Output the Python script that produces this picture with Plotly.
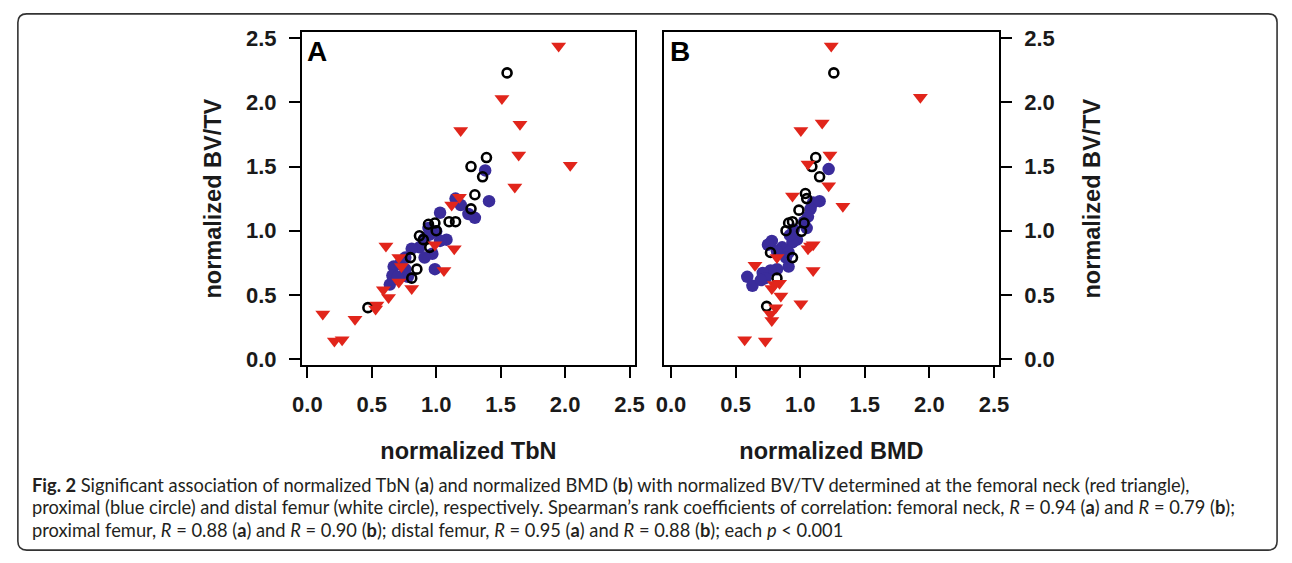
import plotly.graph_objects as go

# ---------------- data ----------------
# Panel A: normalized TbN (x) vs normalized BV/TV (y)
a_neck_x = [1.95, 1.51, 1.65, 1.19, 1.64, 2.04, 1.61, 1.18, 1.12, 0.61, 1.14, 0.99, 0.71,
            0.73, 1.06, 0.71, 0.81, 0.59, 0.63, 0.54, 0.53, 0.37, 0.12, 0.21, 0.27]
a_neck_y = [2.44, 2.03, 1.83, 1.78, 1.59, 1.51, 1.34, 1.26, 1.20, 0.88, 0.86, 0.89, 0.79,
            0.72, 0.69, 0.60, 0.55, 0.54, 0.48, 0.42, 0.39, 0.31, 0.35, 0.14, 0.15]

a_prox_x = [1.38, 1.41, 1.15, 1.19, 1.25, 1.30, 1.03, 0.94, 1.00, 1.08, 1.03, 0.91, 0.87,
            0.81, 0.97, 0.91, 0.76, 0.99, 0.67, 0.76, 0.78, 0.66, 0.64, 0.70, 0.72, 0.95]
a_prox_y = [1.47, 1.23, 1.25, 1.20, 1.13, 1.10, 1.14, 1.02, 0.995, 0.93, 0.92, 0.94, 0.87,
            0.86, 0.82, 0.79, 0.79, 0.70, 0.72, 0.70, 0.64, 0.65, 0.58, 0.64, 0.74, 0.97]

a_dist_x = [1.55, 1.39, 1.27, 1.36, 1.30, 1.27, 1.15, 1.10, 0.99, 0.94, 0.87, 0.95, 0.80,
            0.81, 0.47, 0.90, 1.00, 0.85]
a_dist_y = [2.23, 1.57, 1.50, 1.42, 1.28, 1.17, 1.07, 1.07, 1.06, 1.05, 0.96, 0.87, 0.79,
            0.63, 0.40, 0.93, 1.00, 0.70]

# Panel B: normalized BMD (x) vs normalized BV/TV (y)
b_neck_x = [1.24, 1.93, 1.17, 1.005, 1.23, 1.06, 1.22, 0.94, 1.33, 1.10, 1.06, 0.82, 0.65,
            1.10, 0.84, 0.78, 0.85, 1.005, 0.81, 0.77, 0.78, 0.57, 0.73, 0.80, 1.08]
b_neck_y = [2.44, 2.04, 1.84, 1.78, 1.59, 1.52, 1.35, 1.27, 1.19, 0.89, 0.86, 0.79, 0.73,
            0.69, 0.59, 0.55, 0.49, 0.43, 0.40, 0.35, 0.30, 0.15, 0.14, 0.58, 0.88]

b_prox_x = [1.22, 1.15, 1.10, 1.08, 1.06, 1.05, 0.95, 0.975, 0.94, 0.78, 0.75, 0.86, 0.82,
            0.91, 0.89, 0.91, 0.82, 0.77, 0.71, 0.73, 0.59, 0.63, 0.695, 0.92, 1.03]
b_prox_y = [1.48, 1.23, 1.22, 1.17, 1.11, 1.02, 1.01, 0.93, 0.91, 0.92, 0.89, 0.87, 0.84,
            0.83, 0.79, 0.72, 0.70, 0.69, 0.67, 0.63, 0.64, 0.57, 0.615, 0.965, 1.07]

b_dist_x = [1.26, 1.12, 1.09, 1.15, 1.04, 1.05, 0.99, 0.94, 0.91, 0.89, 1.01, 0.77, 0.94,
            0.82, 0.74, 1.03]
b_dist_y = [2.23, 1.57, 1.50, 1.42, 1.29, 1.25, 1.16, 1.07, 1.06, 1.00, 0.995, 0.83, 0.79,
            0.63, 0.41, 1.06]

tick_vals = [0.0, 0.5, 1.0, 1.5, 2.0, 2.5]
tick_text = ["0.0", "0.5", "1.0", "1.5", "2.0", "2.5"]

panel_letters = ["A", "B"]
x_titles = ["normalized TbN", "normalized BMD"]
y_title = "normalized BV/TV"

caption_lines = [
    "<b>Fig. 2</b> Significant association of normalized TbN (<b>a</b>) and normalized BMD (<b>b</b>) "
    "with normalized BV/TV determined at the femoral neck (red triangle),",
    "proximal (blue circle) and distal femur (white circle), respectively. Spearman\u2019s rank coefficients "
    "of correlation: femoral neck, <i>R</i> = 0.94 (<b>a</b>) and <i>R</i> = 0.79 (<b>b</b>);",
    "proximal femur, <i>R</i> = 0.88 (<b>a</b>) and <i>R</i> = 0.90 (<b>b</b>); distal femur, "
    "<i>R</i> = 0.95 (<b>a</b>) and <i>R</i> = 0.88 (<b>b</b>); each <i>p</i> &lt; 0.001",
]

# ---------------- styling ----------------
W, H = 1292, 563
RED = "#E1251B"
BLUE = "#3A2C9B"
AX_FONT = "Liberation Sans, Arial, sans-serif"
CAP_FONT = "Lato, Open Sans, sans-serif"

def px_x(p):
    return p / W

def px_y(p):
    return 1 - p / H

fig = go.Figure()

panels = [
    (a_prox_x, a_prox_y, a_dist_x, a_dist_y, a_neck_x, a_neck_y, "x", "y"),
    (b_prox_x, b_prox_y, b_dist_x, b_dist_y, b_neck_x, b_neck_y, "x2", "y2"),
]
for (px_, py_, dx_, dy_, nx_, ny_, xa, ya) in panels:
    fig.add_trace(go.Scatter(x=px_, y=py_, mode="markers", xaxis=xa, yaxis=ya,
                             name="proximal femur", showlegend=False,
                             marker=dict(symbol="circle", size=12.5, color=BLUE,
                                         line=dict(width=0))))
    fig.add_trace(go.Scatter(x=dx_, y=dy_, mode="markers", xaxis=xa, yaxis=ya,
                             name="distal femur", showlegend=False,
                             marker=dict(symbol="circle-open", size=9, color="black",
                                         line=dict(width=2.6, color="black"))))
    fig.add_trace(go.Scatter(x=nx_, y=ny_, mode="markers", xaxis=xa, yaxis=ya,
                             name="femoral neck", showlegend=False,
                             marker=dict(symbol="triangle-down", size=13, color=RED,
                                         line=dict(width=0))))

common_axis = dict(
    showgrid=False, zeroline=False, showline=True, linecolor="black", linewidth=2.4,
    mirror=True, ticks="outside", ticklen=11, tickwidth=2.4, tickcolor="black",
    tickvals=tick_vals, ticktext=tick_text,
    tickfont=dict(family=AX_FONT, size=22, color="#1a1a1a", weight="bold"),
    ticklabelstandoff=8,
)
title_font = dict(family=AX_FONT, size=23.5, color="#1a1a1a", weight="bold")

fig.update_layout(
    autosize=True, margin=dict(l=0, r=0, t=0, b=0),
    paper_bgcolor="white", plot_bgcolor="white",
    xaxis=dict(common_axis, domain=[px_x(297), px_x(635)], range=[-0.04, 2.54],
               anchor="y", title=dict(text=x_titles[0], font=title_font, standoff=26)),
    yaxis=dict(common_axis, domain=[px_y(367), px_y(26)], range=[-0.046, 2.546],
               anchor="x", title=dict(text=y_title, font=title_font, standoff=18)),
    xaxis2=dict(common_axis, domain=[px_x(665), px_x(1005)], range=[-0.053, 2.536],
                anchor="y2", title=dict(text=x_titles[1], font=title_font, standoff=26)),
    yaxis2=dict(common_axis, domain=[px_y(367), px_y(26)], range=[-0.046, 2.546],
                anchor="x2", side="right", title=dict(text=y_title, font=title_font, standoff=30)),
)

# panel letters
for letter, xref, yref in [(panel_letters[0], "x domain", "y domain"),
                           (panel_letters[1], "x2 domain", "y2 domain")]:
    fig.add_annotation(text=letter, xref=xref, yref=yref, x=0.01, y=0.995,
                       xanchor="left", yanchor="top", showarrow=False,
                       font=dict(family=AX_FONT, size=28, color="black", weight="bold"))

# caption
cap_y = [490, 513, 536]
for line, yy in zip(caption_lines, cap_y):
    fig.add_annotation(text=line, xref="paper", yref="paper", x=px_x(20), y=px_y(yy),
                       xanchor="left", yanchor="middle", showarrow=False, align="left",
                       font=dict(family=CAP_FONT, size=18.3, color="#231f20"))

# rounded frame around the whole figure
x0, x1 = px_x(8), px_x(1288)
y0, y1 = px_y(557), px_y(7)
rx, ry = 9 / W, 9 / H
path = (f"M {x0+rx},{y1} L {x1-rx},{y1} Q {x1},{y1} {x1},{y1-ry} "
        f"L {x1},{y0+ry} Q {x1},{y0} {x1-rx},{y0} L {x0+rx},{y0} Q {x0},{y0} {x0},{y0+ry} "
        f"L {x0},{y1-ry} Q {x0},{y1} {x0+rx},{y1} Z")
fig.add_shape(type="path", path=path, xref="paper", yref="paper",
              line=dict(color="#333", width=1.6), fillcolor="rgba(0,0,0,0)", layer="below")

post = (
    "var gd=document.getElementById('{plot_id}');"
    "document.documentElement.style.margin='0';document.documentElement.style.height='100%';"
    "document.body.style.margin='0';document.body.style.height='100%';"
    "document.body.style.overflow='hidden';"
    "gd.style.width='100vw';gd.style.height='100vh';"
    "Plotly.Plots.resize(gd);"
)
fig.write_html("out.html", default_width="100%", default_height="100%",
               config={"displayModeBar": False, "responsive": True},
               post_script=post)
